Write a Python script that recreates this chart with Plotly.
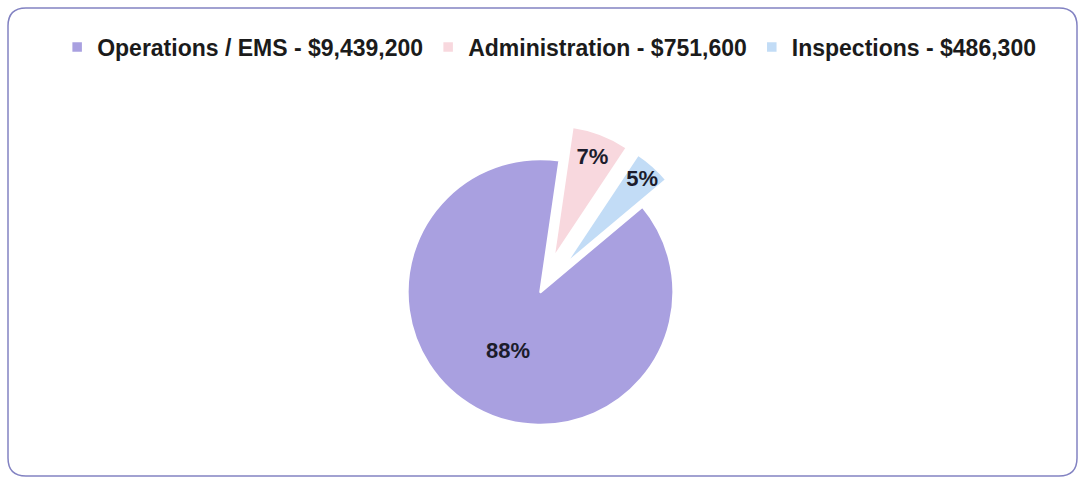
import plotly.graph_objects as go

# Budget by division
categories = ["Operations / EMS", "Administration", "Inspections"]
amounts = [9439200, 751600, 486300]
colors = ["#a9a0e0", "#f8d8de", "#c2dcf6"]
pulls = [0, 0.27, 0.27]

legend_names = [f"{c} - ${v:,}" for c, v in zip(categories, amounts)]

W, H = 1081, 479

fig = go.Figure()
fig.add_trace(go.Pie(
    labels=legend_names,
    values=amounts,
    sort=False,
    direction="clockwise",
    rotation=50,
    pull=pulls,
    marker=dict(colors=colors, line=dict(color="#ffffff", width=2.5)),
    texttemplate="%{percent:.0%}",
    textposition="inside",
    insidetextorientation="horizontal",
    textfont=dict(family="Liberation Sans", size=22, color="#1c1c2c", weight="bold"),
    hoverinfo="label+percent",
    domain=dict(x=[0.3, 0.7], y=[18 / H, 356 / H]),
))

# rounded frame around the chart
x0, x1, y0, y1 = 8, 1077, 8, 476
r = 18
def px(x):
    return x / W
def py(y):
    return 1 - y / H
path = (
    f"M {px(x0 + r)} {py(y0)} L {px(x1 - r)} {py(y0)} "
    f"Q {px(x1)} {py(y0)} {px(x1)} {py(y0 + r)} "
    f"L {px(x1)} {py(y1 - r)} Q {px(x1)} {py(y1)} {px(x1 - r)} {py(y1)} "
    f"L {px(x0 + r)} {py(y1)} Q {px(x0)} {py(y1)} {px(x0)} {py(y1 - r)} "
    f"L {px(x0)} {py(y0 + r)} Q {px(x0)} {py(y0)} {px(x0 + r)} {py(y0)} Z"
)
fig.add_shape(type="path", path=path, xref="paper", yref="paper",
              line=dict(color="#8282c2", width=1.5), layer="below")

fig.update_layout(
    width=W, height=H,
    margin=dict(l=0, r=0, t=0, b=0),
    paper_bgcolor="#ffffff",
    plot_bgcolor="#ffffff",
    uniformtext=dict(minsize=22, mode="show"),
    showlegend=True,
    legend=dict(
        orientation="h",
        x=0.508, xanchor="center",
        y=1 - 47 / H, yanchor="middle",
        font=dict(family="Liberation Sans", size=23, color="#1b1b1b", weight="bold"),
        traceorder="normal",
        itemwidth=30,
    ),
)

fig.write_html("out.html")
